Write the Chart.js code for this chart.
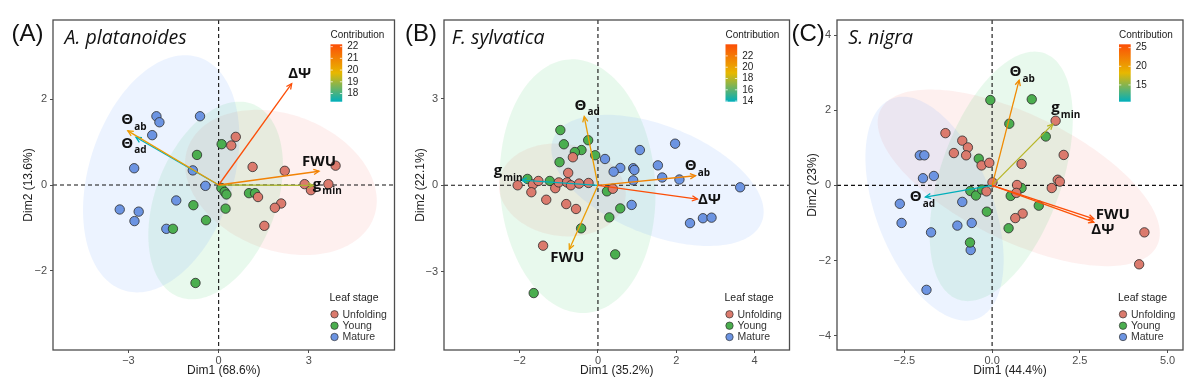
<!DOCTYPE html>
<html><head><meta charset="utf-8">
<script src="https://cdn.jsdelivr.net/npm/chart.js@4.4.1/dist/chart.umd.min.js"></script>
<style>
html,body{margin:0;padding:0;background:#fff;}
body{width:1200px;height:389px;overflow:hidden;position:relative;}
canvas{position:absolute;top:0;}
</style></head><body>
<canvas id="ca" width="400" height="389" style="left:0px"></canvas>
<canvas id="cb" width="395" height="389" style="left:400px"></canvas>
<canvas id="cc" width="412" height="389" style="left:788px"></canvas>
<script>
// ---------- shared categories ----------
const STAGES = ['Unfolding', 'Young', 'Mature'];
const VAR_MAIN = ['ΔΨ', 'FWU', 'g', 'Θ', 'Θ'];
const VAR_SUB = ['', '', 'min', 'ab', 'ad'];

// ---------- Panel A: A. platanoides ----------
const A_unfolding = [[0.57,1.12],[0.42,0.92],[1.13,0.42],[2.20,0.33],[3.89,0.45],[2.86,0.02],[3.07,-0.12],[3.65,0.02],[1.31,-0.28],[2.08,-0.43],[1.87,-0.53],[1.52,-0.95]];
const A_young = [[0.10,0.95],[-0.72,0.70],[0.09,-0.07],[0.20,-0.16],[0.26,-0.22],[0.23,-0.55],[-0.84,-0.47],[-0.42,-0.82],[-1.52,-1.02],[1.01,-0.19],[1.21,-0.19],[-0.77,-2.28]];
const A_mature = [[-2.07,1.60],[-1.97,1.46],[-2.21,1.16],[-0.62,1.60],[-2.81,0.39],[-0.86,0.34],[-0.44,-0.02],[-1.41,-0.36],[-3.29,-0.57],[-2.66,-0.62],[-2.80,-0.84],[-1.74,-1.02]];
const A_loadX = [2.43, 3.34, 3.15, -3.02, -2.75];
const A_loadY = [2.36, 0.32, -0.01, 1.26, 1.11];
const A_contrib = [22.2, 21.0, 19.1, 20.4, 17.3];
// ellipse: [centerX, centerY, halfWidth, halfHeight, x-shift of top point]
const A_ellUnfolding = [2.07, 0.06, 3.19, 1.69, -0.80];
const A_ellYoung = [-0.10, -0.36, 2.24, 2.30, 0.79];
const A_ellMature = [-1.91, 0.26, 2.60, 2.76, 0.80];
const A_xTicks = [-3, 0, 3];
const A_yTicks = [-2, 0, 2];
const A_contribTicks = [18, 19, 20, 21, 22];

// ---------- Panel B: F. sylvatica ----------
const B_unfolding = [[-2.05,0.00],[-1.66,0.03],[-1.52,0.15],[-1.70,-0.24],[-1.32,-0.50],[-1.09,-0.10],[-1.00,0.10],[-0.79,0.10],[-0.69,0.00],[-0.48,0.06],[-0.24,0.08],[-0.81,-0.65],[-0.56,-0.82],[-0.76,0.43],[-0.64,0.97],[-1.40,-2.09],[0.38,-0.12]];
const B_young = [[-0.96,1.91],[-0.87,1.42],[-0.25,1.56],[-0.42,1.22],[-0.59,1.15],[-0.07,1.04],[-0.98,0.80],[-1.80,0.22],[-1.23,0.15],[0.23,-0.21],[0.57,-0.80],[0.29,-1.11],[-0.43,-1.49],[0.44,-2.39],[-1.64,-3.73]];
const B_mature = [[1.97,1.44],[1.07,1.22],[0.18,0.91],[1.53,0.69],[0.57,0.60],[0.40,0.47],[0.90,0.59],[0.93,0.53],[1.64,0.27],[2.08,0.20],[0.90,0.17],[3.63,-0.07],[0.86,-0.68],[2.35,-1.31],[2.68,-1.14],[2.90,-1.12]];
const B_loadX = [2.54, -0.73, -1.96, 2.49, -0.35];
const B_loadY = [-0.48, -2.21, 0.18, 0.33, 2.38];
const B_contrib = [24.05, 20.25, 13.9, 21.5, 20.3];
const B_ellUnfolding = [-0.91, -0.16, 1.62, 1.61, -0.15];
const B_ellYoung = [-0.52, -0.03, 1.99, 4.39, -0.13];
const B_ellMature = [1.52, 0.17, 2.71, 2.27, -1.30];
const B_xTicks = [-2, 0, 2, 4];
const B_yTicks = [-3, 0, 3];
const B_contribTicks = [14, 16, 18, 20, 22];

// ---------- Panel C: S. nigra ----------
const C_unfolding = [[-1.33,1.39],[-0.85,1.19],[-0.69,1.01],[-1.09,0.86],[-0.74,0.80],[-0.30,0.53],[-0.08,0.60],[-0.16,-0.16],[0.01,0.08],[0.84,0.57],[1.81,1.72],[2.04,0.81],[1.87,0.15],[1.93,0.10],[1.70,-0.07],[0.71,0.01],[0.69,-0.20],[0.87,-0.75],[0.66,-0.87],[4.34,-1.25],[4.19,-2.10]];
const C_young = [[-0.05,2.27],[1.13,2.29],[0.49,1.64],[1.53,1.30],[-0.38,0.71],[-0.62,-0.15],[-0.46,-0.27],[-0.29,-0.11],[-0.15,-0.70],[0.53,-0.28],[0.84,-0.07],[1.33,-0.54],[0.47,-1.14],[-0.63,-1.52]];
const C_mature = [[-2.06,0.80],[-1.93,0.80],[-1.97,0.19],[-1.66,0.25],[-2.63,-0.49],[-0.85,-0.44],[-2.58,-1.00],[-1.74,-1.25],[-0.99,-1.07],[-0.58,-1.00],[-0.61,-1.72],[-1.87,-2.78]];
const C_loadX = [2.90, 2.90, 1.73, 0.77, -1.90];
const C_loadY = [-0.98, -0.89, 1.63, 2.80, -0.31];
const C_contrib = [25.5, 25.9, 16.6, 21.5, 10.5];
const C_ellUnfolding = [0.76, 0.20, 4.02, 2.35, -2.52];
const C_ellYoung = [0.26, 0.24, 2.04, 3.32, 0.95];
const C_ellMature = [-1.64, -0.62, 1.97, 2.98, -0.90];
const C_xTicks = [-2.5, 0, 2.5, 5];
const C_yTicks = [-4, -2, 0, 2, 4];
const C_contribTicks = [15, 20, 25];

// ---------- styles ----------
const POINT_COLORS = ['#DB7A6D', '#4BAE4F', '#6C94E2'];
const ELL_COLORS = ['rgba(248,118,109,0.11)', 'rgba(0,186,56,0.09)', 'rgba(97,156,255,0.12)'];
const GRAD = [[0,175,187],[231,184,0],[252,78,7]];
const SANS = "'Liberation Sans', Arial, sans-serif";
const OPEN = "'Open Sans', 'DejaVu Sans', sans-serif";

function gradColor(v, lo, hi) {
  let t = (v - lo) / (hi - lo); t = Math.max(0, Math.min(1, t));
  let a, b, f;
  if (t < 0.5) { a = GRAD[0]; b = GRAD[1]; f = t / 0.5; } else { a = GRAD[1]; b = GRAD[2]; f = (t - 0.5) / 0.5; }
  const c = a.map((x, i) => Math.round(x + (b[i] - x) * f));
  return 'rgb(' + c.join(',') + ')';
}
function fmt(dec) { return v => (v < 0 ? '\u2212' : '') + Math.abs(v).toFixed(dec); }

const panels = [
  { id: 'ca', tag: '(A)', species: 'A. platanoides', xTitle: 'Dim1 (68.6%)', yTitle: 'Dim2 (13.6%)',
    pts: [A_unfolding, A_young, A_mature], ell: [A_ellUnfolding, A_ellYoung, A_ellMature],
    lx: A_loadX, ly: A_loadY, contrib: A_contrib, xTicks: A_xTicks, yTicks: A_yTicks, cTicks: A_contribTicks,
    xMin: -5.51, xMax: 5.85, yMin: -3.84, yMax: 3.84, xDec: 0,
    yW: 53, padR: 1, yTitlePad: 21, tagX: 11.5, speciesDX: 11.6,
    lab: [[8,-10],[0,-10],[14,-1],[6,-11],[-2,6]] },
  { id: 'cb', tag: '(B)', species: 'F. sylvatica', xTitle: 'Dim1 (35.2%)', yTitle: 'Dim2 (22.1%)',
    pts: [B_unfolding, B_young, B_mature], ell: [B_ellUnfolding, B_ellYoung, B_ellMature],
    lx: B_loadX, ly: B_loadY, contrib: B_contrib, xTicks: B_xTicks, yTicks: B_yTicks, cTicks: B_contribTicks,
    xMin: -3.93, xMax: 4.89, yMin: -5.70, yMax: 5.72, xDec: 0,
    yW: 44, padR: 4, yTitlePad: 13, tagX: 5, speciesDX: 7.7,
    lab: [[12,1],[-2,9],[-13,-9],[2,-10],[3,-11]] },
  { id: 'cc', tag: '(C)', species: 'S. nigra', xTitle: 'Dim1 (44.4%)', yTitle: 'Dim2 (23%)',
    pts: [C_unfolding, C_young, C_mature], ell: [C_ellUnfolding, C_ellYoung, C_ellMature],
    lx: C_loadX, ly: C_loadY, contrib: C_contrib, xTicks: C_xTicks, yTicks: C_yTicks, cTicks: C_contribTicks,
    xMin: -4.42, xMax: 5.44, yMin: -4.38, yMax: 4.40, xDec: 1,
    yW: 49, padR: 17, yTitlePad: 17, tagX: 3.5, speciesDX: 11.3,
    lab: [[9,8],[19,-4],[13,-16],[3,-8],[-3,0]] }
];

function makePlugin(P) {
  return {
    id: 'panel_' + P.id,
    beforeDatasetsDraw(chart) {
      const { ctx, chartArea: ca, scales: { x, y } } = chart;
      ctx.save();
      ctx.beginPath(); ctx.rect(ca.left, ca.top, ca.right - ca.left, ca.bottom - ca.top); ctx.clip();
      // confidence ellipses
      P.ell.forEach((e, i) => {
        const [cx, cy, W, H, dx] = e;
        const k = dx * H / W;
        const m = Math.sqrt(Math.max(H * H - k * k, 0));
        ctx.beginPath();
        for (let j = 0; j <= 180; j++) {
          const t = j / 180 * Math.PI * 2;
          const px = x.getPixelForValue(cx + W * Math.cos(t));
          const py = y.getPixelForValue(cy + k * Math.cos(t) + m * Math.sin(t));
          if (j === 0) ctx.moveTo(px, py); else ctx.lineTo(px, py);
        }
        ctx.closePath();
        ctx.fillStyle = ELL_COLORS[i];
        ctx.fill();
      });
      // dashed zero lines
      ctx.strokeStyle = '#111'; ctx.lineWidth = 1.1; ctx.setLineDash([4, 3]);
      const x0 = x.getPixelForValue(0), y0 = y.getPixelForValue(0);
      ctx.beginPath(); ctx.moveTo(x0, ca.top); ctx.lineTo(x0, ca.bottom); ctx.stroke();
      ctx.beginPath(); ctx.moveTo(ca.left, y0); ctx.lineTo(ca.right, y0); ctx.stroke();
      ctx.restore();
    },
    afterDatasetsDraw(chart) {
      const { ctx, scales: { x, y } } = chart;
      const lo = Math.min(...P.contrib), hi = Math.max(...P.contrib);
      const ox = x.getPixelForValue(0), oy = y.getPixelForValue(0);
      ctx.save();
      const order = P.contrib.map((c, i) => i).sort((a, b) => P.contrib[a] - P.contrib[b]);
      order.forEach(i => {
        const col = gradColor(P.contrib[i], lo, hi);
        const tx = x.getPixelForValue(P.lx[i]), ty = y.getPixelForValue(P.ly[i]);
        ctx.strokeStyle = col; ctx.lineWidth = 1.3; ctx.setLineDash([]);
        ctx.beginPath(); ctx.moveTo(ox, oy); ctx.lineTo(tx, ty); ctx.stroke();
        const ang = Math.atan2(ty - oy, tx - ox), L = 6, sp = 0.45;
        ctx.beginPath();
        ctx.moveTo(tx - L * Math.cos(ang - sp), ty - L * Math.sin(ang - sp));
        ctx.lineTo(tx, ty);
        ctx.lineTo(tx - L * Math.cos(ang + sp), ty - L * Math.sin(ang + sp));
        ctx.stroke();
      });
      // variable labels
      ctx.fillStyle = '#111'; ctx.textBaseline = 'middle'; ctx.textAlign = 'left';
      P.lx.forEach((v, i) => {
        const tx = x.getPixelForValue(P.lx[i]) + P.lab[i][0];
        const ty = y.getPixelForValue(P.ly[i]) + P.lab[i][1];
        ctx.font = "bold 15px " + OPEN;
        const w1 = ctx.measureText(VAR_MAIN[i]).width;
        ctx.font = "bold 10px " + OPEN;
        const w2 = VAR_SUB[i] ? ctx.measureText(VAR_SUB[i]).width + 1 : 0;
        const sx = tx - (w1 + w2) / 2;
        ctx.font = "bold 15px " + OPEN;
        ctx.fillText(VAR_MAIN[i], sx, ty);
        if (VAR_SUB[i]) { ctx.font = "bold 10px " + OPEN; ctx.fillText(VAR_SUB[i], sx + w1 + 1, ty + 7); }
      });
      ctx.restore();
    },
    afterDraw(chart) {
      const { ctx, chartArea: ca } = chart;
      ctx.save();
      // frame
      ctx.strokeStyle = '#4d4d4d'; ctx.lineWidth = 1.3; ctx.setLineDash([]);
      ctx.strokeRect(ca.left, ca.top, ca.right - ca.left, ca.bottom - ca.top);
      // tag and species
      ctx.fillStyle = '#111'; ctx.textAlign = 'left'; ctx.textBaseline = 'alphabetic';
      ctx.font = "24px " + SANS;
      ctx.fillText(P.tag, P.tagX, 41);
      ctx.font = "italic 19.5px " + OPEN;
      ctx.fillText(P.species, ca.left + P.speciesDX, 43.5);
      // contribution colour bar
      const lo = Math.min(...P.contrib), hi = Math.max(...P.contrib);
      const bx = ca.right - 64, by = 44.3, bw = 11.7, bh = 57.4;
      ctx.font = "10px " + SANS; ctx.textBaseline = 'middle'; ctx.fillStyle = '#222';
      ctx.fillText('Contribution', bx, 35.7);
      const g = ctx.createLinearGradient(0, by, 0, by + bh);
      g.addColorStop(0, 'rgb(' + GRAD[2].join(',') + ')');
      g.addColorStop(0.5, 'rgb(' + GRAD[1].join(',') + ')');
      g.addColorStop(1, 'rgb(' + GRAD[0].join(',') + ')');
      ctx.fillStyle = g; ctx.fillRect(bx, by, bw, bh);
      ctx.fillStyle = '#222';
      P.cTicks.forEach(t => {
        const ty = by + (hi - t) / (hi - lo) * bh;
        ctx.strokeStyle = 'rgba(255,255,255,0.9)'; ctx.lineWidth = 0.8;
        ctx.beginPath(); ctx.moveTo(bx, ty); ctx.lineTo(bx + 2.3, ty); ctx.moveTo(bx + bw - 2.3, ty); ctx.lineTo(bx + bw, ty); ctx.stroke();
        ctx.fillText(String(t), bx + bw + 5, ty);
      });
      // leaf stage legend
      const lx = ca.right - 65;
      ctx.font = "10.5px " + SANS; ctx.fillStyle = '#222';
      ctx.fillText('Leaf stage', lx, 298.3);
      const ys = [314.3, 325.7, 337];
      STAGES.forEach((s, i) => {
        ctx.beginPath(); ctx.arc(ca.right - 60, ys[i], 3.7, 0, Math.PI * 2);
        ctx.fillStyle = POINT_COLORS[i]; ctx.fill();
        ctx.strokeStyle = '#333'; ctx.lineWidth = 0.7; ctx.stroke();
        ctx.fillStyle = '#333'; ctx.font = "10.5px " + SANS;
        ctx.fillText(s, ca.right - 52, ys[i] + 0.5);
      });
      ctx.restore();
    }
  };
}

panels.forEach(P => {
  const tickFont = { family: SANS, size: 11 };
  const titleFont = { family: SANS, size: 12 };
  new Chart(document.getElementById(P.id), {
    type: 'scatter',
    data: {
      datasets: STAGES.map((s, i) => ({
        label: s,
        data: P.pts[i].map(([vx, vy]) => ({ x: vx, y: vy })),
        backgroundColor: POINT_COLORS[i],
        borderColor: '#2b2b2b',
        borderWidth: 0.8,
        pointRadius: 4.7,
        pointHoverRadius: 4.7
      }))
    },
    options: {
      responsive: false,
      animation: false,
      events: [],
      layout: { padding: { left: 0, right: P.padR, top: 20, bottom: 0 } },
      plugins: { legend: { display: false }, tooltip: { enabled: false } },
      scales: {
        x: {
          type: 'linear', min: P.xMin, max: P.xMax,
          afterBuildTicks: s => { s.ticks = P.xTicks.map(v => ({ value: v })); },
          afterFit: s => { s.height = 39; },
          ticks: { callback: fmt(P.xDec), font: tickFont, color: '#4d4d4d', padding: 1, maxRotation: 0, autoSkip: false },
          grid: { drawOnChartArea: false, drawTicks: true, tickLength: 3, color: '#4d4d4d' },
          border: { display: false },
          title: { display: true, text: P.xTitle, font: titleFont, color: '#222', padding: { top: 0, bottom: 11 } }
        },
        y: {
          type: 'linear', min: P.yMin, max: P.yMax,
          afterBuildTicks: s => { s.ticks = P.yTicks.map(v => ({ value: v })); },
          afterFit: s => { s.width = P.yW; },
          ticks: { callback: fmt(0), font: tickFont, color: '#4d4d4d', padding: 3, autoSkip: false },
          grid: { drawOnChartArea: false, drawTicks: true, tickLength: 3, color: '#4d4d4d' },
          border: { display: false },
          title: { display: true, text: P.yTitle, font: titleFont, color: '#222', padding: { top: P.yTitlePad, bottom: 0 } }
        }
      }
    },
    plugins: [makePlugin(P)]
  });
});
</script>
</body></html>
